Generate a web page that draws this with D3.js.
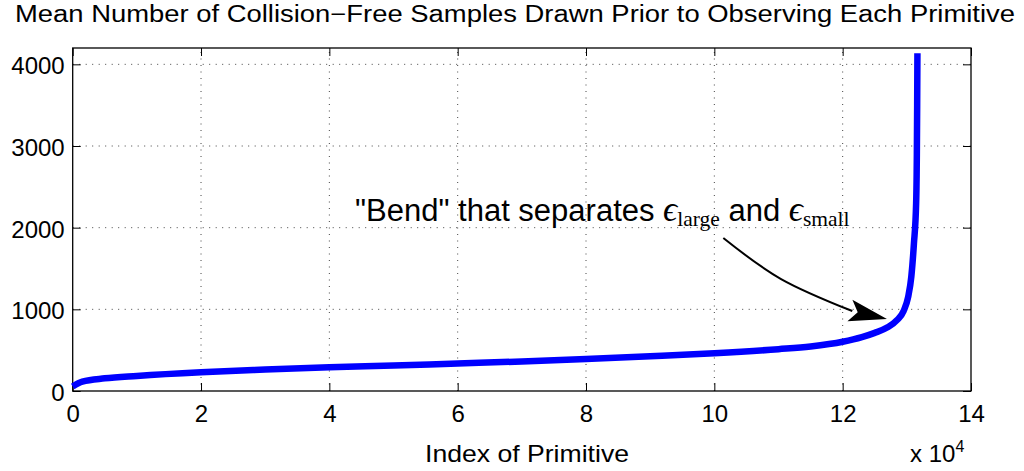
<!DOCTYPE html>
<html>
<head>
<meta charset="utf-8">
<script src="https://cdn.jsdelivr.net/npm/d3@7/dist/d3.min.js"></script>
<style>
  body { margin: 0; background: #fff; }
  svg text { font-family: "Liberation Sans", Arial, Helvetica, sans-serif; fill: #000; }
</style>
</head>
<body>
<div class="chart"></div>
<script>
// primitive index vs mean number of collision-free samples
const primitiveIndex = [0, 1500, 5000, 10000, 20000, 30000, 40000, 50000, 60000, 70000, 80000,
  90000, 100000, 110000, 115000, 120000, 123000, 125000, 127000, 128500, 129500, 130200,
  130700, 131100, 131450, 131560, 131610, 131650];
const meanSamples = [55, 115, 155, 185, 230, 262, 290, 312, 337, 362, 392,
  425, 462, 512, 545, 603, 660, 712, 780, 870, 980, 1150,
  1400, 1800, 2300, 2900, 3500, 4135];

const xTicks = [0, 2, 4, 6, 8, 10, 12, 14];      // in units of 10^4
const yTicks = [0, 1000, 2000, 3000, 4000];

const titleText = 'Mean Number of Collision\u2212Free Samples Drawn Prior to Observing Each Primitive';
const xLabelText = 'Index of Primitive';

// annotation arrow path, in data units (x in 10^4)
const arrowX = [10.14, 11.04, 12.15, 12.69];
const arrowY = [1873, 1371, 979, 881];
const noteX = 4.4;
const noteY = 2080;

const width = 1024;
const height = 471;
const margin = { top: 48, left: 72.7, bottom: 80, right: 53 };

const svg = d3.select('.chart').append('svg')
  .attr('width', width)
  .attr('height', height);

const x = d3.scaleLinear()
  .domain([0, 14])
  .range([margin.left, width - margin.right]);

const y = d3.scaleLinear()
  .domain([0, 4200])
  .range([height - margin.bottom, margin.top]);

const x0 = x.range()[0], x1 = x.range()[1];
const yb = y.range()[0], yt = y.range()[1];

// dotted grid
svg.append('g').selectAll('line.vg')
  .data(xTicks.filter(d => d > 0 && d < 14))
  .join('line')
    .attr('x1', d => x(d)).attr('x2', d => x(d))
    .attr('y1', yb).attr('y2', yt)
    .attr('stroke', '#444').attr('stroke-width', 1)
    .attr('stroke-dasharray', '1,5.5');

svg.append('g').selectAll('line.hg')
  .data(yTicks.filter(d => d > 0))
  .join('line')
    .attr('x1', x0).attr('x2', x1)
    .attr('y1', d => y(d)).attr('y2', d => y(d))
    .attr('stroke', '#444').attr('stroke-width', 1)
    .attr('stroke-dasharray', '1,5.5');

// axes with inward ticks on all four sides
const tick = 8;
svg.append('g')
  .attr('transform', `translate(0,${yb})`)
  .call(d3.axisBottom(x).tickValues(xTicks).tickSize(-tick).tickPadding(14).tickFormat(d3.format('d')))
  .call(g => g.select('.domain').remove())
  .call(g => g.selectAll('text').attr('font-size', 24).attr('dy', '0.71em').attr('y', 14));

svg.append('g')
  .attr('transform', `translate(0,${yt})`)
  .call(d3.axisTop(x).tickValues(xTicks).tickSize(-tick).tickFormat(''))
  .call(g => g.select('.domain').remove());

svg.append('g')
  .attr('transform', `translate(${x0},0)`)
  .call(d3.axisLeft(y).tickValues(yTicks).tickSize(-tick).tickPadding(8).tickFormat(d3.format('d')))
  .call(g => g.select('.domain').remove())
  .call(g => g.selectAll('text').attr('font-size', 24).attr('dy', '0.4em'));

svg.append('g')
  .attr('transform', `translate(${x1},0)`)
  .call(d3.axisRight(y).tickValues(yTicks).tickSize(-tick).tickFormat(''))
  .call(g => g.select('.domain').remove());

svg.selectAll('.tick line').attr('stroke', '#000');
svg.selectAll('.tick text').attr('fill', '#000')
  .style('font-family', '"Liberation Sans", Arial, Helvetica, sans-serif');

// frame
svg.append('rect')
  .attr('x', x0).attr('y', yt)
  .attr('width', x1 - x0).attr('height', yb - yt)
  .attr('fill', 'none').attr('stroke', '#000').attr('stroke-width', 1.3);

// the curve
const pts = primitiveIndex.map((d, i) => [d / 1e4, meanSamples[i]]);
svg.append('path').datum(pts)
  .attr('d', d3.line().x(d => x(d[0])).y(d => y(d[1])).curve(d3.curveMonotoneX))
  .attr('fill', 'none')
  .attr('stroke', '#0000ff')
  .attr('stroke-width', 6.5);

// title and labels (the figure's text is a little wider than the font, so stretch it)
svg.append('text')
  .attr('x', 15).attr('y', 22)
  .attr('font-size', 23)
  .attr('textLength', 1000)
  .attr('lengthAdjust', 'spacingAndGlyphs')
  .text(titleText);

svg.append('text')
  .attr('x', 425).attr('y', 462)
  .attr('font-size', 24)
  .attr('textLength', 204)
  .attr('lengthAdjust', 'spacingAndGlyphs')
  .text(xLabelText);

const mult = svg.append('text')
  .attr('x', 910).attr('y', 462)
  .attr('font-size', 24);
mult.append('tspan').text('x 10');
mult.append('tspan').attr('dy', -10).attr('font-size', 16).text('4');

// annotation
const serif = '"Liberation Serif", "DejaVu Serif", serif';
const note = svg.append('text')
  .attr('x', x(noteX)).attr('y', y(noteY))
  .attr('font-size', 31);
note.append('tspan').text('"Bend" that separates ');
note.append('tspan').attr('font-family', serif)
  .attr('font-style', 'italic').attr('font-size', 35).text('\u03f5');
note.append('tspan').attr('font-family', serif)
  .attr('font-size', 21.5).attr('dy', 5).text('large');
note.append('tspan').attr('dy', -5).text(' and ');
note.append('tspan').attr('font-family', serif)
  .attr('font-style', 'italic').attr('font-size', 35).text('\u03f5');
note.append('tspan').attr('font-family', serif)
  .attr('font-size', 21.5).attr('dy', 5).text('small');

// arrow shaft
const arrowPts = arrowX.map((d, i) => [x(d), y(arrowY[i])]);
const shaft = arrowPts.slice(0, 3);
svg.append('path').datum(shaft)
  .attr('d', d3.line().curve(d3.curveNatural))
  .attr('fill', 'none').attr('stroke', '#000').attr('stroke-width', 2);

// arrow head (notched triangle) oriented along the last segment
const tip = arrowPts[3];
const from = arrowPts[2];
const ang = Math.atan2(tip[1] - from[1], tip[0] - from[0]);
const hl = 38, hw = 11, notch = 30;
const ux = Math.cos(ang), uy = Math.sin(ang);
const head = [
  tip,
  [tip[0] - hl * ux - hw * uy, tip[1] - hl * uy + hw * ux],
  [tip[0] - notch * ux, tip[1] - notch * uy],
  [tip[0] - hl * ux + hw * uy, tip[1] - hl * uy - hw * ux]
];
svg.append('path')
  .attr('d', d3.line()(head) + 'Z')
  .attr('fill', '#000');
</script>
</body>
</html>
